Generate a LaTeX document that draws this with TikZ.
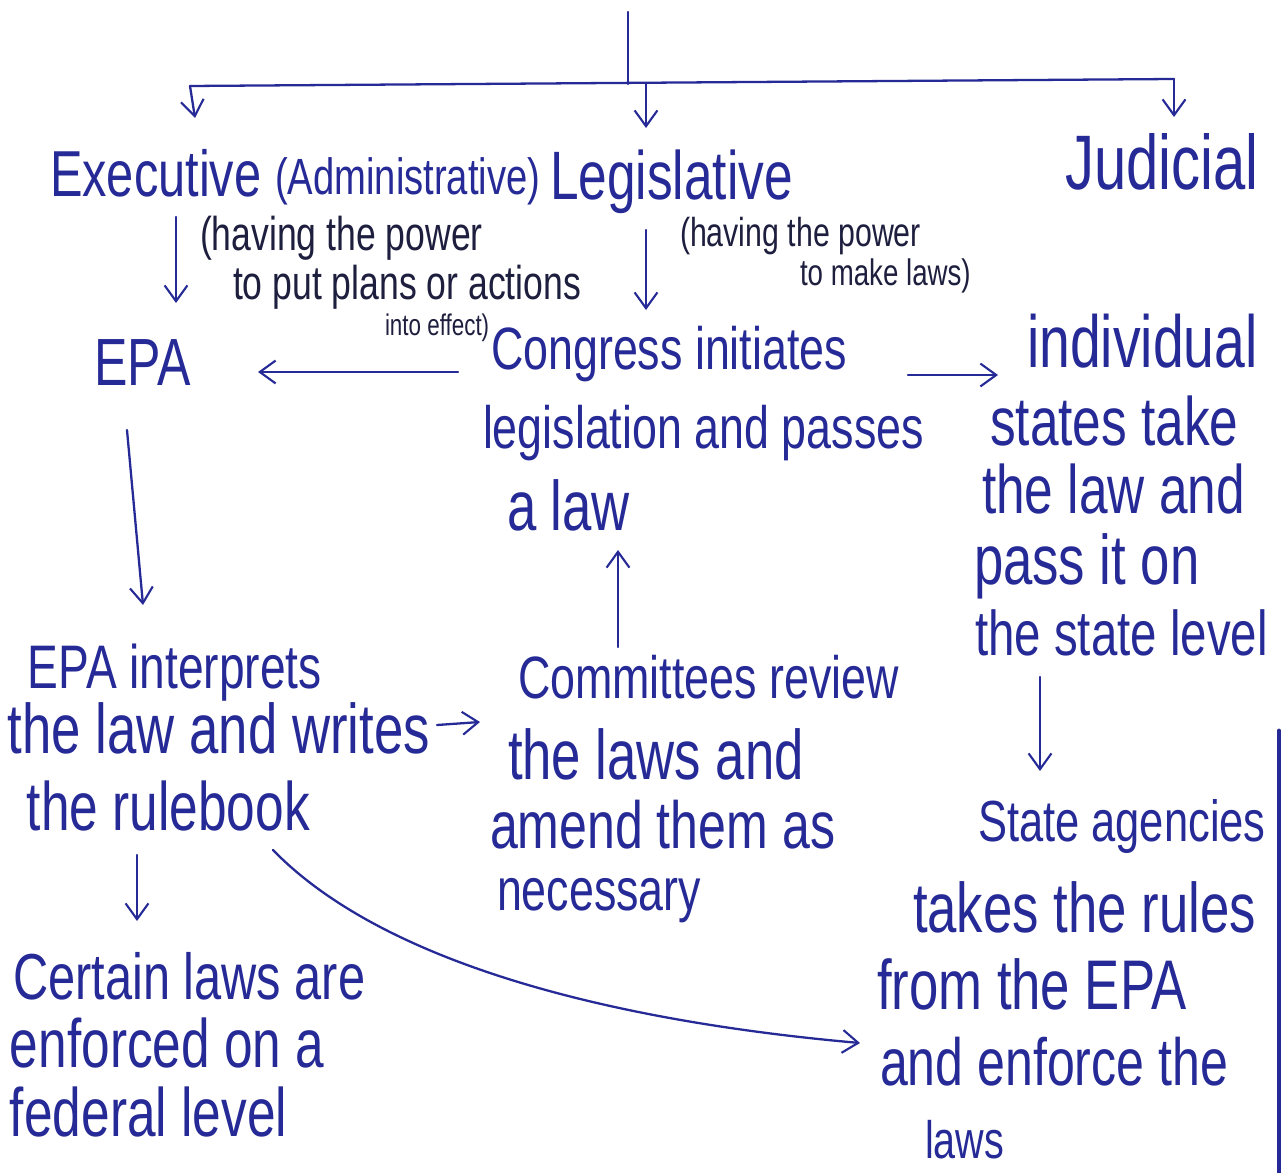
\documentclass[tikz,border=0pt]{standalone}
\usepackage{fontspec}
\setmainfont{Liberation Sans}[FakeStretch=0.75]
\usetikzlibrary{arrows.meta}
\definecolor{ink}{RGB}{38,42,150}
\definecolor{note}{RGB}{30,30,62}
\begin{document}
\begin{tikzpicture}[x=0.02cm,y=-0.02cm,line cap=round,line join=round,
  txt/.style={anchor=base west,inner sep=0pt,outer sep=0pt,text=ink,font=\fontsize{#1}{#1}\selectfont},
  nt/.style={txt=#1,text=note},
  ln/.style={draw=ink,line width=1.3pt},
  arr/.style={ln,-{Straight Barb[length=9pt,width=13pt,line width=1.2pt]}}]
\fill[white] (0,0) rectangle (1283,1172);
\useasboundingbox (0,0) rectangle (1283,1172);

% headings
\node[txt=37pt] (exec) at (50,197) {Executive};
\node[txt=29pt] (admin) at (275,195) {(Administrative)};
\node[txt=39pt] (legis) at (550,200) {Legislative};
\node[txt=44pt] (jud) at (1065,190) {Judicial};

% notes
\node[nt=27pt] (n1a) at (200,251) {(having the power};
\node[nt=27pt] (n1b) at (233,299) {to put plans or actions};
\node[nt=17pt] (n1c) at (385,335) {into effect)};
\node[nt=23pt] (n2a) at (680,247) {(having the power};
\node[nt=21pt] (n2b) at (800,285) {to make laws)};

% EPA
\node[txt=38pt] (epa) at (94,385) {EPA};

% Congress
\node[txt=34pt] (cong1) at (491,369) {Congress initiates};
\node[txt=34pt] (cong2) at (483,448) {legislation and passes};
\node[txt=40pt] (cong3) at (507,530) {a law};

% individual states
\node[txt=42pt] (ind1) at (1027,367) {individual};
\node[txt=39pt] (ind2) at (990,445) {states take};
\node[txt=39pt] (ind3) at (982,513) {the law and};
\node[txt=40pt] (ind4) at (974,584) {pass it on};
\node[txt=36pt] (ind5) at (975,655) {the state level};

% EPA interprets
\node[txt=35pt] (int1) at (28,688) {EPA interprets};
\node[txt=40pt] (int2) at (8,753) {the law and writes};
\node[txt=39pt] (int3) at (27,830) {the rulebook};

% Committees
\node[txt=34pt] (com1) at (518,698) {Committees review};
\node[txt=40pt] (com2) at (508,779) {the laws and};
\node[txt=38pt] (com3) at (490,848) {amend them as};
\node[txt=34pt] (com4) at (497,910) {necessary};

% State agencies
\node[txt=33pt] (st1) at (978,841) {State agencies};
\node[txt=40pt] (st2) at (913,932) {takes the rules};
\node[txt=40pt] (st3) at (877,1009) {from the EPA};
\node[txt=38pt] (st4) at (880,1085) {and enforce the};
\node[txt=30pt] (st5) at (925,1158) {laws};

% Certain laws
\node[txt=37pt] (cer1) at (13,999) {Certain laws are};
\node[txt=39pt] (cer2) at (10,1067) {enforced on a};
\node[txt=39pt] (cer3) at (10,1136) {federal level};

% coordinates for connectors
\coordinate (top) at (628,12);
\coordinate (jm) at (628,84);
\coordinate (jl) at (190,86);
\coordinate (jr) at (1174,79);
\coordinate (jm2) at (646,84);
\coordinate (ae) at (195,118);
\coordinate (al) at (646,128);
\coordinate (aj) at (1174,117);
\coordinate (exS) at (176,217);
\coordinate (epaN) at (176,303);
\coordinate (lgS) at (646,230);
\coordinate (cgN) at (646,310);
\coordinate (cgW) at (458,372);
\coordinate (epaE) at (258,372);
\coordinate (cgE) at (908,375);
\coordinate (indW) at (998,375);
\coordinate (comN) at (618,647);
\coordinate (cgS) at (618,550);
\coordinate (epaS) at (127,430);
\coordinate (intN) at (143,605);
\coordinate (wrE) at (437,725);
\coordinate (comW) at (480,722);
\coordinate (rbS) at (137,855);
\coordinate (cerN) at (137,921);
\coordinate (slS) at (1040,677);
\coordinate (stN) at (1040,771);
\coordinate (cb) at (273,850);
\coordinate (ce) at (860,1043);
\coordinate (edgeT) at (1279,731);
\coordinate (edgeB) at (1279,1172);

% connectors
\draw[ln] (top) -- (jm);
\draw[ln] (jl) -- (jr);
\draw[arr] (jl) -- (ae);
\draw[arr] (jm2) -- (al);
\draw[arr] (jr) -- (aj);
\draw[arr] (exS) -- (epaN);
\draw[arr] (lgS) -- (cgN);
\draw[arr] (cgW) -- (epaE);
\draw[arr] (cgE) -- (indW);
\draw[arr] (comN) -- (cgS);
\draw[arr] (epaS) -- (intN);
\draw[arr] (wrE) -- (comW);
\draw[arr] (rbS) -- (cerN);
\draw[arr] (slS) -- (stN);
\draw[arr] (cb) .. controls (380,960) and (600,1020) .. (ce);
\draw[draw=ink,line width=2.8pt] (edgeT) -- (edgeB);
\end{tikzpicture}
\end{document}
